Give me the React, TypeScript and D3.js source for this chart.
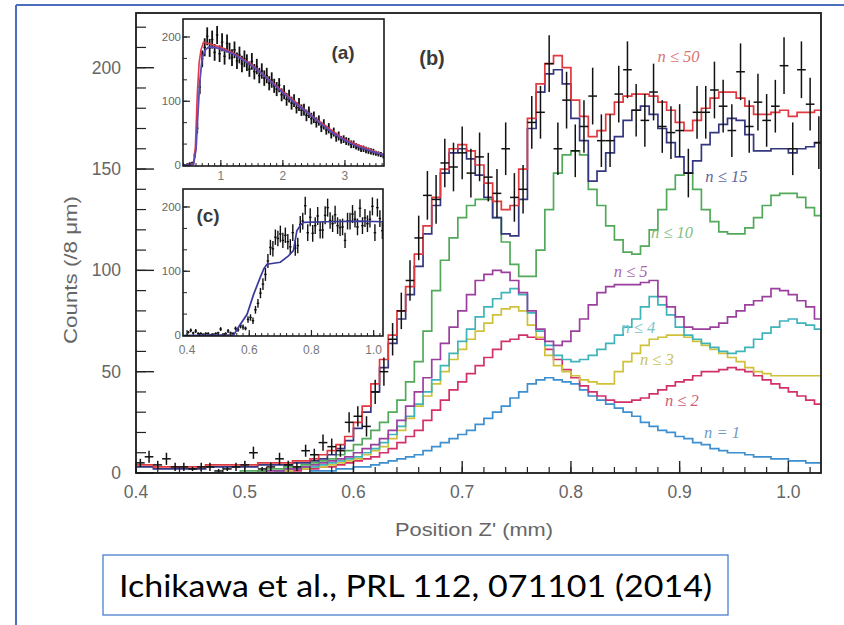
import React from "react";
import * as d3 from "d3";

// ---------- main panel (b) : histogram bins of 8 um starting at 0.4 mm ----------
const binStart = 0.4;
const binWidth = 0.008;

const nEq1 = [
  0,0,0,0,0,0,0,0,0,0,0,0,0,0,0,0,0,0,0,0,
  1,1,1,2,2,3,3,4,
  5,6,7,8,9,11,13,15,17,19,21,24,27,30,33,37,40,44,46,47,46,45,44,41,38,36,34,32,30,28,25,23,21,20,18,17,15,14,12,11,10,10,9,8,8,7,7,6,6,5,5,
];
const nLe2 = [
  0,0,0,0,0,0,0,0,0,0,0,0,0,0,0,0,
  1,1,1,2,2,3,3,4,5,6,7,8,
  10,12,15,18,21,26,31,36,41,45,49,53,57,61,65,66,68,67,66,61,56,51,47,43,40,38,36,35,35,36,37,39,41,43,45,46,48,50,50,51,52,51,50,48,46,44,42,40,38,36,34,
];
const nLe3 = [
  0,0,0,0,0,0,0,0,0,0,0,0,0,0,0,0,
  1,1,2,2,3,3,4,5,6,7,9,11,
  13,17,21,27,33,38,44,50,56,61,66,70,74,78,81,82,80,73,67,58,53,50,48,46,45,44,44,50,55,59,63,66,67,68,68,67,65,63,61,59,57,55,52,50,49,48,48,48,48,48,48,
];
const nLe4 = [
  0,0,0,0,0,0,0,0,0,0,0,0,0,0,0,0,
  1,2,2,3,3,4,5,6,7,8,10,12,
  15,19,23,28,34,40,46,53,59,65,71,77,82,86,89,91,88,79,70,63,58,56,55,56,58,61,64,68,72,76,82,87,83,78,72,68,66,64,62,60,59,60,62,66,69,72,75,76,74,73,71,
];
const nLe5 = [
  0,0,0,0,0,0,0,0,0,0,0,0,0,0,1,1,
  1,2,2,3,4,5,6,7,8,10,12,14,
  17,21,26,33,40,47,56,64,72,80,88,95,98,100,99,95,89,80,71,65,63,65,70,76,83,89,92,93,93,93,94,95,87,82,77,72,71,71,72,74,77,80,83,85,87,91,90,88,85,82,76,
];
const nLe10 = [
  0,0,0,0,0,0,0,0,0,0,0,0,
  1,1,1,2,2,3,3,4,5,6,7,9,11,14,17,21,
  25,30,36,45,55,70,90,105,116,126,132,135,135,126,114,103,97,97,110,130,148,157,159,157,140,132,122,115,109,108,112,120,130,140,147,148,140,130,124,119,118,118,121,126,132,137,138,138,136,131,127,
];
const nLe15 = [
  3,3,2,2,2,2,2,2,3,3,3,3,3,3,4,4,4,4,5,5,
  6,7,9,12,16,22,30,40,
  52,64,76,88,102,118,132,148,158,160,155,147,136,126,118,117,135,170,188,197,199,192,175,164,144,149,158,166,174,179,181,177,170,163,156,148,154,162,168,172,175,174,167,159,159,160,160,158,160,161,163,
];
const nLe50 = [
  4,4,3,3,3,3,3,3,4,4,4,4,4,4,5,5,5,5,6,6,
  7,9,11,14,18,25,33,44,
  56,68,80,92,108,122,136,150,160,162,159,152,143,134,130,132,150,175,192,202,206,200,184,176,166,169,177,183,186,187,187,186,183,179,173,169,174,180,185,188,188,185,181,177,177,178,179,176,178,178,179,
];

// measured counts with error bars (one point per 8 um bin)
const dataCounts = [
  5,8,4,7,3,3,2,3,3,1,2,3,4,10,2,3,7,4,3,11,9,15,13,11,25,28,23,40,50,66,80,95,
  116,137,135,153,151,158,148,156,146,138,160,136,140,173,178,202,160,184,159,171,186,164,164,187,199,179,174,188,171,168,169,148,178,178,189,181,169,198,171,183,174,181,201,160,199,182,163,
];
const dataErrors = [
  2,3,2,3,2,2,1,2,2,1,1,2,2,3,1,2,3,2,2,3,3,4,4,3,5,5,5,6,7,8,9,10,
  11,12,12,12,12,13,12,12,12,12,13,12,12,13,13,14,13,14,13,13,14,13,13,14,14,13,13,14,13,13,13,12,13,13,14,13,13,14,13,14,13,13,14,13,14,13,13,
];

const seriesNames = ["n = 1", "n ≤ 2", "n ≤ 3", "n ≤ 4", "n ≤ 5", "n ≤ 10", "n ≤ 15", "n ≤ 50"];
const seriesValues = [nEq1, nLe2, nLe3, nLe4, nLe5, nLe10, nLe15, nLe50];
const seriesColors = ["#3d8fcf", "#d2306a", "#cfc23a", "#3fb3ba", "#9a3f9e", "#52a95a", "#34367f", "#e0393f"];
const labelColors = ["#6f9cc6", "#cf5a7c", "#c9c45e", "#78c4c9", "#a866b0", "#84bd84", "#63639a", "#d97272"];
// label anchor points in data units (position mm, counts)
const labelX = [0.939, 0.902, 0.879, 0.862, 0.855, 0.893, 0.943, 0.899];
const labelY = [20.2, 36.0, 55.8, 71.6, 99.2, 118.9, 146.1, 205.3];

const xMajorTicks = [0.4, 0.5, 0.6, 0.7, 0.8, 0.9, 1.0];
const xTickLabels = ["0.4", "0.5", "0.6", "0.7", "0.8", "0.9", "1.0"];
const yMajorTicks = [0, 50, 100, 150, 200];

// ---------- inset (a): full range, 40 um bins ----------
const insetAStart = 0.4;
const insetABin = 0.04;
const insetACounts = [
  1,2,3,4,16,58,122,166,184,201,183,196,176,203,174,192,170,190,178,168,180,163,172,158,166,160,150,162,146,154,140,147,136,140,128,133,124,119,125,110,114,103,108,97,101,90,95,86,87,78,83,73,75,67,70,60,64,55,58,49,52,44,46,40,41,38,37,33,33,30,28,26,26,24,23,22,21,19,18,17,15,
];
const insetAErrors = [
  1,1,2,2,4,8,11,13,14,14,14,14,13,14,13,14,13,14,13,13,13,13,13,13,13,13,12,13,12,12,12,12,12,12,11,12,11,11,11,10,11,10,10,10,10,9,10,9,9,9,9,9,9,8,8,8,8,7,8,7,7,7,7,6,6,6,6,6,6,5,5,5,5,5,5,5,5,4,4,4,4,
];
const insetAModelX = [0.39, 0.56, 0.6, 0.63, 0.66, 0.7, 0.75, 0.8, 0.9, 1.0, 1.2, 1.4, 1.6, 1.8, 2.0, 2.2, 2.4, 2.6, 2.8, 3.0, 3.2, 3.4, 3.63];
const insetAModelY = [0, 2, 25, 80, 130, 168, 180, 184, 184, 181, 174, 162, 148, 131, 113, 97, 82, 66, 51, 39, 30, 23, 16];
const insetARedX = [0.39, 0.56, 0.59, 0.62, 0.65, 0.68, 0.72, 0.8, 1.0, 1.2, 1.5, 2.0, 2.5, 3.0, 3.63];
const insetARedY = [0, 3, 30, 110, 160, 180, 192, 190, 184, 175, 157, 115, 75, 40, 16];

// ---------- inset (c): zoom of the rise, same data, blue model ----------
const insetCModelX = [0.387, 0.55, 0.571, 0.593, 0.614, 0.635, 0.647, 0.657, 0.7, 0.726, 0.742, 0.753, 0.765, 0.774, 0.85, 0.95, 1.03];
const insetCModelY = [0, 1, 17, 33, 64, 90, 104, 111, 114, 124, 132, 163, 172, 176, 177, 178, 177];

const sans = "'Liberation Sans', Arial, Helvetica, sans-serif";
const serif = "'Liberation Serif', 'DejaVu Serif', 'Times New Roman', serif";

function histPath(values: number[], xs: d3.ScaleLinear<number, number>, ys: d3.ScaleLinear<number, number>, start: number, width: number) {
  const pts: [number, number][] = values.map((v, i) => [start + i * width, v]);
  pts.push([start + values.length * width, values[values.length - 1]]);
  return d3
    .line<[number, number]>()
    .curve(d3.curveStepAfter)
    .x((d) => xs(d[0]))
    .y((d) => ys(d[1]))(pts) as string;
}

function Inset(props: {
  x0: number; x1: number; y0: number; y1: number;
  domain: [number, number];
  xMajor: number[]; xLabels: string[]; xMinorStep: number; xMinorFrom: number; xLabelOffset: number;
  children: (xs: d3.ScaleLinear<number, number>, ys: d3.ScaleLinear<number, number>) => React.ReactNode;
  clipId: string; tag: string; tagX: number; tagY: number;
}) {
  const { x0, x1, y0, y1, domain } = props;
  const xs = d3.scaleLinear().domain(domain).range([x0, x1]);
  const ys = d3.scaleLinear().domain([0, 228]).range([y1 - 0.5, y0]);
  const nMinor = Math.floor((domain[1] - props.xMinorFrom) / props.xMinorStep + 1e-6);
  const xMinor = d3.range(0, nMinor + 1).map((i) => props.xMinorFrom + i * props.xMinorStep);
  const yMinor = d3.range(0, 7).map((i) => (i * 100) / 3);
  return (
    <g>
      <rect x={x0} y={y0} width={x1 - x0} height={y1 - y0} fill="#fff" />
      <clipPath id={props.clipId}>
        <rect x={x0} y={y0} width={x1 - x0} height={y1 - y0} />
      </clipPath>
      <g clipPath={`url(#${props.clipId})`}>{props.children(xs, ys)}</g>
      {xMinor.map((t, i) => (
        <line key={"xm" + i} x1={xs(t)} x2={xs(t)} y1={y1} y2={y1 - 3} stroke="#222" strokeWidth={1} />
      ))}
      {props.xMajor.map((t, i) => (
        <line key={"xM" + i} x1={xs(t)} x2={xs(t)} y1={y1} y2={y1 - 6} stroke="#222" strokeWidth={1.2} />
      ))}
      {yMinor.map((t, i) => (
        <line key={"ym" + i} x1={x0} x2={x0 + 4} y1={ys(t)} y2={ys(t)} stroke="#222" strokeWidth={1} />
      ))}
      {[0, 100, 200].map((t) => (
        <line key={"yM" + t} x1={x0} x2={x0 + 7} y1={ys(t)} y2={ys(t)} stroke="#222" strokeWidth={1.2} />
      ))}
      <rect x={x0} y={y0} width={x1 - x0} height={y1 - y0} fill="none" stroke="#1a1a1a" strokeWidth={1.6} />
      {[0, 100, 200].map((t) => (
        <text key={"yl" + t} x={x0 - 2} y={ys(t) - (t === 0 ? 1 : 0)} textAnchor="end" dominantBaseline="central" fontFamily={sans} fontSize={11.5} fill="#666">
          {t}
        </text>
      ))}
      {props.xMajor.map((t, i) => (
        <text key={"xl" + i} x={xs(t)} y={y1 + props.xLabelOffset} textAnchor="middle" dominantBaseline="central" fontFamily={sans} fontSize={12} fill="#777">
          {props.xLabels[i]}
        </text>
      ))}
      <text x={props.tagX} y={props.tagY} textAnchor="middle" dominantBaseline="central" fontFamily={sans} fontWeight="bold" fontSize={19} fill="#3a3a3a">
        {props.tag}
      </text>
    </g>
  );
}

export default function App() {
  const W = 844;
  const H = 625;
  const left = 136, right = 821, top = 13, bottom = 473;
  const x = d3.scaleLinear().domain([0.4, 1.03]).range([left, right]);
  const y = d3.scaleLinear().domain([0, 227]).range([bottom, top]);

  const xMinor = d3.range(0, 32).map((i) => 0.4 + i * 0.02).filter((t) => t <= 1.0301);
  const yMinor = d3.range(0, 23).map((i) => i * 10);

  const dataLayer = (xs: d3.ScaleLinear<number, number>, ys: d3.ScaleLinear<number, number>, sw: number) =>
    dataCounts.map((v, i) => {
      const e = dataErrors[i];
      const xl = xs(binStart + i * binWidth);
      const xr = xs(binStart + (i + 1) * binWidth);
      const xc = (xl + xr) / 2;
      return (
        <g key={"d" + i}>
          <line x1={xl} x2={xr} y1={ys(v)} y2={ys(v)} stroke="#111" strokeWidth={sw} />
          <line x1={xc} x2={xc} y1={ys(Math.max(0, v - e))} y2={ys(v + e)} stroke="#111" strokeWidth={sw} />
        </g>
      );
    });

  return (
    <svg width={W} height={H} style={{ position: "absolute", left: 0, top: 0, background: "#fff" }} xmlns="http://www.w3.org/2000/svg">
      <rect x={0} y={0} width={W} height={H} fill="#fff" />
      {/* slide frame */}
      <line x1={16} y1={5} x2={W} y2={5} stroke="#4a6fbf" strokeWidth={2} />
      <line x1={16} y1={5} x2={16} y2={H} stroke="#4a6fbf" strokeWidth={2} />

      <clipPath id="mainClip">
        <rect x={left} y={top} width={right - left} height={bottom - top} />
      </clipPath>

      <g clipPath="url(#mainClip)">
        {seriesValues.map((vals, k) => (
          <path key={"s" + k} d={histPath(vals, x, y, binStart, binWidth)} fill="none" stroke={seriesColors[k]} strokeWidth={1.7} />
        ))}
        {dataLayer(x, y, 1.5)}
      </g>

      {/* main ticks */}
      {xMinor.map((t, i) => (
        <line key={"xm" + i} x1={x(t)} x2={x(t)} y1={bottom} y2={bottom - 6} stroke="#222" strokeWidth={1.2} />
      ))}
      {xMajorTicks.map((t, i) => (
        <line key={"xM" + i} x1={x(t)} x2={x(t)} y1={bottom} y2={bottom - 12} stroke="#222" strokeWidth={1.4} />
      ))}
      {yMinor.map((t, i) => (
        <line key={"ym" + i} x1={left} x2={left + 10} y1={y(t)} y2={y(t)} stroke="#222" strokeWidth={1.2} />
      ))}
      {yMajorTicks.map((t, i) => (
        <line key={"yM" + i} x1={left} x2={left + 18} y1={y(t)} y2={y(t)} stroke="#222" strokeWidth={1.4} />
      ))}
      <rect x={left} y={top} width={right - left} height={bottom - top} fill="none" stroke="#1a1a1a" strokeWidth={1.8} />

      {/* tick labels */}
      {xMajorTicks.map((t, i) => (
        <text key={"xl" + i} x={x(t)} y={492} textAnchor="middle" dominantBaseline="central" fontFamily={sans} fontSize={17.5} fill="#666">
          {xTickLabels[i]}
        </text>
      ))}
      {yMajorTicks.map((t, i) => (
        <text key={"yl" + i} x={121} y={y(t)} textAnchor="end" dominantBaseline="central" fontFamily={sans} fontSize={17.5} fill="#666">
          {t}
        </text>
      ))}

      {/* axis titles */}
      <text x={474} y={529} textAnchor="middle" dominantBaseline="central" fontFamily={sans} fontSize={18.5} fill="#666" textLength={158} lengthAdjust="spacingAndGlyphs">
        Position Z' (mm)
      </text>
      <text transform="translate(70,270) rotate(-90)" textAnchor="middle" dominantBaseline="central" fontFamily={sans} fontSize={18.5} fill="#666" textLength={148} lengthAdjust="spacingAndGlyphs">
        Counts (/8 μm)
      </text>

      {/* series labels */}
      {seriesNames.map((nm, k) => (
        <text key={"lab" + k} x={x(labelX[k])} y={y(labelY[k])} textAnchor="middle" dominantBaseline="central" fontFamily={serif} fontStyle="italic" fontSize={16.5} fill={labelColors[k]}>
          {nm}
        </text>
      ))}

      <text x={432} y={58} textAnchor="middle" dominantBaseline="central" fontFamily={sans} fontWeight="bold" fontSize={20} fill="#3a3a3a">
        (b)
      </text>

      {/* inset (a) */}
      <Inset
        x0={183} x1={384} y0={19} y1={166}
        domain={[0.39, 3.63]}
        xMajor={[1, 2, 3]} xLabels={["1", "2", "3"]} xMinorStep={0.1} xMinorFrom={0.4} xLabelOffset={10}
        clipId="clipA" tag="(a)" tagX={343} tagY={52}
      >
        {(xs, ys) => (
          <g>
            {insetACounts.map((v, i) => {
              const e = insetAErrors[i];
              const xl = xs(insetAStart + i * insetABin);
              const xr = xs(insetAStart + (i + 1) * insetABin);
              const xc = (xl + xr) / 2;
              return (
                <g key={"a" + i}>
                  <line x1={xl} x2={xr} y1={ys(v)} y2={ys(v)} stroke="#111" strokeWidth={1.4} />
                  <line x1={xc} x2={xc} y1={ys(Math.max(0, v - e))} y2={ys(v + e)} stroke="#111" strokeWidth={1.8} />
                </g>
              );
            })}
            <path d={d3.line<number>().x((d) => xs(d)).y((_, i) => ys(insetARedY[i]))(insetARedX) as string} fill="none" stroke="#e0394a" strokeWidth={1.6} />
            <path d={d3.line<number>().x((d) => xs(d)).y((_, i) => ys(insetAModelY[i]))(insetAModelX) as string} fill="none" stroke="#5a4ab8" strokeWidth={1.8} />
          </g>
        )}
      </Inset>

      {/* inset (c) */}
      <Inset
        x0={183} x1={383} y0={189} y1={336}
        domain={[0.387, 1.03]}
        xMajor={[0.4, 0.6, 0.8, 1.0]} xLabels={["0.4", "0.6", "0.8", "1.0"]} xMinorStep={0.02} xMinorFrom={0.4} xLabelOffset={14}
        clipId="clipC" tag="(c)" tagX={208} tagY={215}
      >
        {(xs, ys) => (
          <g>
            {dataLayer(xs, ys, 1.4)}
            <path d={d3.line<number>().x((d) => xs(d)).y((_, i) => ys(insetCModelY[i]))(insetCModelX) as string} fill="none" stroke="#3a3a9c" strokeWidth={1.7} />
          </g>
        )}
      </Inset>

      {/* citation */}
      <rect x={103} y={555} width={625} height={60} fill="#fff" stroke="#4a7fd0" strokeWidth={1.3} />
      <text x={119} y={597} fontFamily="Lato, 'Open Sans', sans-serif" fontSize={30} fill="#000" textLength={593} lengthAdjust="spacingAndGlyphs">
        Ichikawa et al.,  PRL 112, 071101 (2014)
      </text>
    </svg>
  );
}
